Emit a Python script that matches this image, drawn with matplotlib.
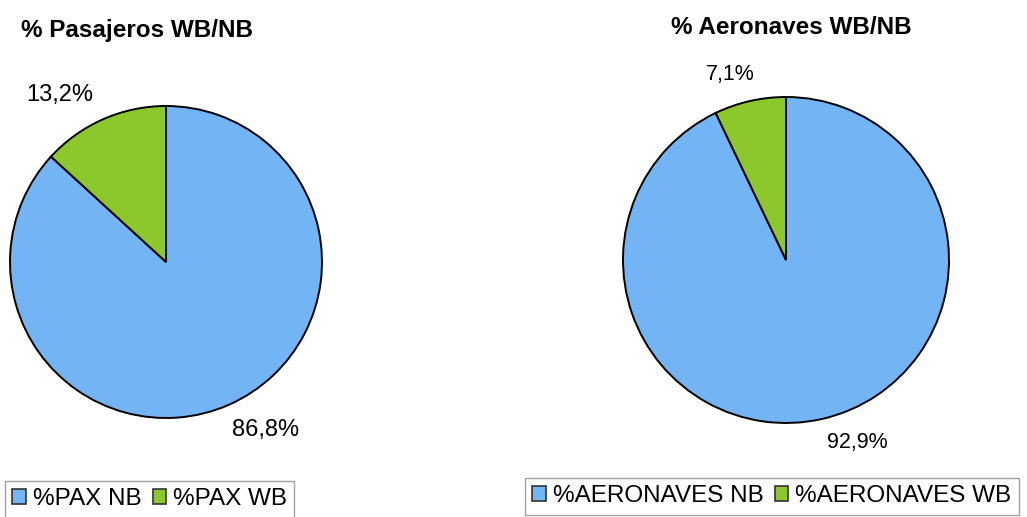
import matplotlib
matplotlib.use("Agg")
import matplotlib.pyplot as plt
from matplotlib.patches import Patch

# data
pax_labels = ["%PAX NB", "%PAX WB"]
pax_values = [86.8, 13.2]
acft_labels = ["%AERONAVES NB", "%AERONAVES WB"]
acft_values = [92.9, 7.1]

colors = ["#72B4F4", "#8CC82C"]
W, H = 1027, 517

plt.rcParams["font.family"] = ["Liberation Sans", "DejaVu Sans"]

fig = plt.figure(figsize=(W / 100, H / 100), dpi=100)


def px_axes(cx, cy, r):
    # axes box from pixel center/radius
    return fig.add_axes([(cx - r) / W, (H - cy - r) / H, 2 * r / W, 2 * r / H])


def draw_pie(ax, values):
    ax.pie(values, colors=colors, startangle=90, counterclock=False,
           wedgeprops=dict(edgecolor="black", linewidth=1.4))
    ax.set_xlim(-1, 1)
    ax.set_ylim(-1, 1)
    ax.set_aspect("equal")
    ax.axis("off")


def fmt(v):
    return f"{v:.1f}%".replace(".", ",")


ax1 = px_axes(166, 262, 156)
draw_pie(ax1, pax_values)
ax1.text(-0.68, 1.07, fmt(pax_values[1]), fontsize=17, ha="center", va="center")
ax1.text(0.64, -1.08, fmt(pax_values[0]), fontsize=17, ha="center", va="center")

ax2 = px_axes(786, 260, 163)
draw_pie(ax2, acft_values)
ax2.text(-0.34, 1.14, fmt(acft_values[1]), fontsize=15.5, ha="center", va="center")
ax2.text(0.44, -1.12, fmt(acft_values[0]), fontsize=15.5, ha="center", va="center")

fig.text(21 / W, 1 - 30 / H, "% Pasajeros WB/NB", fontsize=17.5, fontweight="bold",
         ha="left", va="center")
fig.text(791 / W, 1 - 28 / H, "% Aeronaves WB/NB", fontsize=17.5, fontweight="bold",
         ha="center", va="center")


def legend_at(labels, x, y):
    handles = [Patch(facecolor=c, edgecolor="#333333", linewidth=1.2) for c in colors]
    leg = fig.legend(handles, labels, loc="upper left", bbox_to_anchor=(x / W, 1 - y / H),
                     ncol=2, fontsize=17.5, frameon=True, fancybox=False,
                     handlelength=0.55, handleheight=0.55, handletextpad=0.3,
                     columnspacing=0.45, borderpad=0.3, borderaxespad=0)
    leg.get_frame().set_edgecolor("#888888")
    leg.get_frame().set_linewidth(1.0)


legend_at(pax_labels, 5, 481)
legend_at(acft_labels, 525, 478)

fig.savefig("out.png", dpi=100)
